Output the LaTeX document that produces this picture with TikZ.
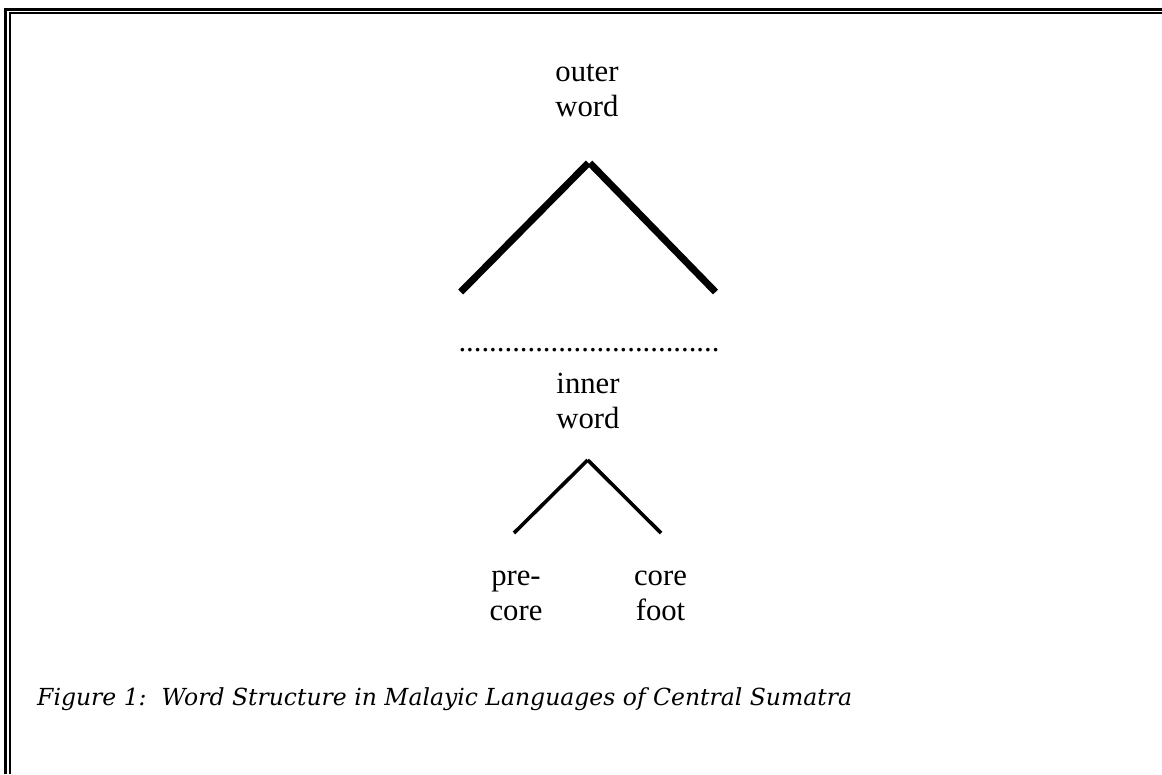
\documentclass[tikz,border=0pt]{standalone}
\usepackage{fontspec}
\setmainfont{Liberation Serif}
\newfontfamily\capfont{DejaVu Serif}
\begin{document}
\begin{tikzpicture}[x=1pt,y=-1pt,
  lbl/.style={inner sep=0pt,align=center,anchor=base,font=\fontsize{30.7}{35}\selectfont},
  bigedge/.style={line width=7pt,line cap=butt},
  smalledge/.style={line width=3.6pt,line cap=butt},
  frameout/.style={line width=2.7pt},
  framein/.style={line width=1.8pt}]
\useasboundingbox (0,0) rectangle (1162,774);
% double frame (left and top)
\draw[frameout] (5.4,774) -- (5.4,9.4) -- (1162,9.4);
\draw[framein] (9.9,774) -- (9.9,13.2) -- (1162,13.2);
% labels (base anchor = baseline of the last line)
\node[lbl] (outer) at (587,116.7) {outer\\word};
\node[lbl] (dots) at (589,351) {..................................};
\node[lbl] (inner) at (588,428) {inner\\word};
\node[lbl] (pre) at (516,620.5) {pre-\\core};
\node[lbl] (corefoot) at (660.5,620.5) {core\\foot};
% tree coordinates
\coordinate (oa) at (588.3,163);
\coordinate (ol) at (460.7,292);
\coordinate (or) at (715.5,292);
\coordinate (ia) at (587.7,460);
\coordinate (il) at (514,533);
\coordinate (ir) at (661,533);
\draw[bigedge] (ol) -- (oa);
\draw[bigedge] ([xshift=1.5pt]oa) -- (or);
\draw[smalledge] (il) -- (ia);
\draw[smalledge] (ia) -- (ir);
% caption
\node[inner sep=0pt,anchor=base west,font=\capfont\itshape\fontsize{23.5}{28}\selectfont] (cap) at (37,705)
  {Figure 1:\ \ Word Structure in Malayic Languages of Central Sumatra};
\end{tikzpicture}
\end{document}
